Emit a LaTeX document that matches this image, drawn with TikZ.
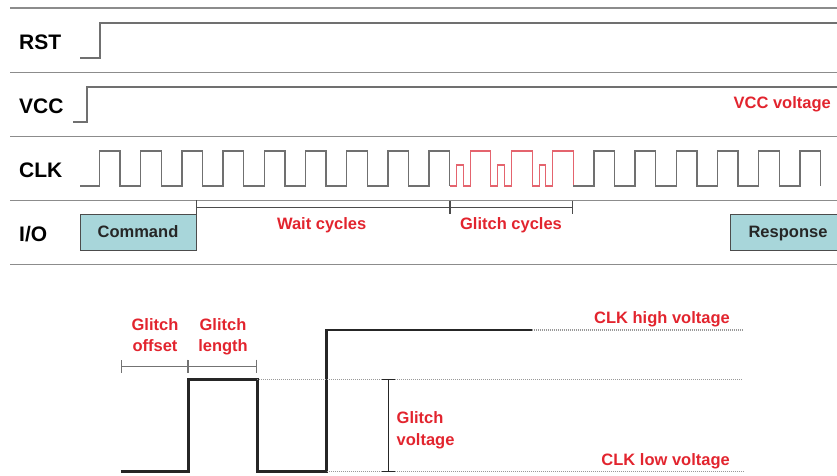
\documentclass[tikz,border=0pt]{standalone}
\usepackage{fontspec}
\setmainfont{Liberation Sans}
\usetikzlibrary{arrows.meta}
\definecolor{sigred}{RGB}{226,36,46}
\definecolor{glitchred}{RGB}{228,100,110}
\definecolor{wavegray}{RGB}{112,112,112}
\definecolor{rulegray}{RGB}{140,140,140}
\definecolor{boxfill}{RGB}{168,214,218}
\tikzset{
    rowrule/.style={draw=rulegray, line width=1.6pt},
    wave/.style={draw=wavegray, line width=1.3pt},
    glitchwave/.style={draw=glitchred, line width=1.1pt},
    siglabel/.style={anchor=west, inner sep=0pt, font=\fontsize{21}{24}\selectfont\bfseries},
    redlabel/.style={inner sep=0pt, text=sigred, font=\fontsize{16.5}{21.5}\selectfont\bfseries},
    iobox/.style={draw=black!70, line width=1pt, fill=boxfill, minimum width=116pt, minimum height=36pt,
        text depth=0pt, text=black!85, font=\fontsize{16.5}{20}\selectfont\bfseries},
    span/.style={draw=black!70, line width=1pt, {Bar[width=13pt]}-{Bar[width=13pt]}},
    spanend/.style={draw=black!70, line width=1pt, -{Bar[width=13pt]}},
    level/.style={draw=black!40, line width=1.2pt, dash pattern=on 1pt off 1pt},
    pulse/.style={draw=black!85, line width=2.6pt},
}
\begin{document}
\begin{tikzpicture}[x=1pt,y=-1pt]
    \useasboundingbox (0,0) rectangle (837,475);
    \foreach \y in {8,72.5,136.5,200.5,264.5}
        \draw[rowrule] (10,\y) -- (837,\y);

    \node[siglabel] (rst) at (19,42) {RST};
    \node[siglabel] (vcc) at (19,106) {VCC};
    \node[siglabel] (clk) at (19,170.5) {CLK};
    \node[siglabel] (io) at (19,234) {I/O};

    \draw[wave] (80,58) -| (100,23) -- (837,23);
    \draw[wave] (73,122) -| (87,87) -- (837,87);
    \node[redlabel, anchor=base east] (vccvolt) at (831,108.3) {VCC voltage};

    \draw[wave] (80,186) \foreach \k in {0,...,8} {
        -- ({99.5+41.2*\k},186) |- ({120.1+41.2*\k},151) -- ({120.1+41.2*\k},186) };
    \draw[glitchwave] (449.7,186) \foreach \k in {9,10,11} {
        -- ({85.9+41.2*\k},186) |- ({92.4+41.2*\k},165) -- ({92.4+41.2*\k},186)
        -- ({99.5+41.2*\k},186) |- ({120.1+41.2*\k},151) -- ({120.1+41.2*\k},186) };
    \draw[wave] (573.3,186) \foreach \k in {12,...,17} {
        -- ({99.5+41.2*\k},186) |- ({120.1+41.2*\k},151) -- ({120.1+41.2*\k},186) };

    \node[iobox] (cmd) at (138,232) {Command};
    \node[iobox] (resp) at (788,232) {Response};
    \coordinate (waitend) at (450,207);
    \coordinate (glitchend) at (573,207);
    \draw[draw=black!70, line width=1pt] (cmd.north east) -- ++(0,-14);
    \draw[spanend] (cmd.north east |- waitend) -- (waitend);
    \draw[span] (waitend) -- (glitchend);
    \node[redlabel, anchor=base] (wait) at (321.7,229.3) {Wait cycles};
    \node[redlabel, anchor=base] (glitch) at (511,229.3) {Glitch cycles};

    \coordinate (lowstart) at (120.7,471.7);
    \coordinate (gup) at (188.3,379.3);
    \coordinate (gdown) at (257.3,379.3);
    \coordinate (clkup) at (326.7,471.7);
    \coordinate (highend) at (531.7,330);
    \draw[pulse] (lowstart) -| (gup) -- (gdown) |- (clkup) |- (highend);
    \draw[level] (highend) -- (743,330);
    \draw[level] (gdown) -- (743,379.3);
    \draw[level] (clkup) -- (743,471.7);

    \coordinate (offl) at (120.7,366);
    \coordinate (offr) at (188.3,366);
    \coordinate (lenr) at (257.3,366);
    \draw[span, draw=black!55] (offl) -- (offr);
    \draw[span, draw=black!55] (offr) -- (lenr);
    \draw[span, draw=black!85] (388.3,379.3) -- (388.3,471.7);

    \node[redlabel, anchor=north, align=center] (goffset) at (155,318) {Glitch\\offset};
    \node[redlabel, anchor=north, align=center] (glength) at (223,318) {Glitch\\length};
    \node[redlabel, anchor=north west, align=left] (gvolt) at (396.5,411.5) {Glitch\\voltage};
    \node[redlabel, anchor=base east] (clkhigh) at (730,323) {CLK high voltage};
    \node[redlabel, anchor=base east] (clklow) at (730,465) {CLK low voltage};
\end{tikzpicture}
\end{document}
